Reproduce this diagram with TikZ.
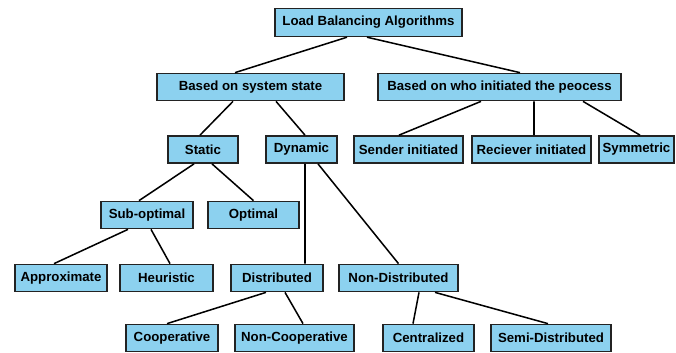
\documentclass[tikz,border=0pt]{standalone}
\usepackage{fontspec}
\setmainfont{Liberation Sans}
\usepackage{tikz}
\usetikzlibrary{arrows,shapes}

\definecolor{boxblue}{RGB}{140,209,239}
\definecolor{boxline}{RGB}{35,35,35}

\begin{document}
\begin{tikzpicture}[x=0.03cm, y=-0.03cm,
  algbox/.style={draw=boxline, line width=1.2pt, fill=boxblue, minimum height=0.82cm,
    inner sep=1pt, font=\fontsize{11.3}{13}\selectfont\bfseries},
  branch/.style={line width=1.3pt, black}]

\useasboundingbox (0,0) rectangle (676,352);

\node[algbox, minimum width=5.61cm, minimum height=0.84cm] (lba) at (368.5,22.5) {Load Balancing Algorithms};

\node[algbox, minimum width=5.61cm] (state) at (250.5,87) {Based on system state};
\node[algbox, minimum width=7.29cm] (who) at (499.5,87) {Based on who initiated the peocess};

\node[algbox, minimum width=2.1cm] (static) at (203,149.5) {Static};
\node[algbox, minimum width=2.13cm] (dynamic) at (301.5,149.5) {Dynamic};
\node[algbox, minimum width=3.27cm] (sender) at (408.5,149.5) {Sender initiated};
\node[algbox, minimum width=3.57cm] (receiver) at (531.5,149.5) {Reciever initiated};
\node[algbox, minimum width=2.25cm] (symmetric) at (636.5,149.5) {Symmetric};

\node[algbox, minimum width=2.76cm] (subopt) at (147,215) {Sub-optimal};
\node[algbox, minimum width=2.73cm] (optimal) at (253.5,215) {Optimal};

\node[algbox, minimum width=2.76cm] (approx) at (61,278) {Approximate};
\node[algbox, minimum width=2.79cm] (heuristic) at (166.5,278) {Heuristic};
\node[algbox, minimum width=2.76cm] (distr) at (277,278) {Distributed};
\node[algbox, minimum width=3.57cm] (nondistr) at (398.5,278) {Non-Distributed};

\node[algbox, minimum width=2.76cm] (coop) at (172,338) {Cooperative};
\node[algbox, minimum width=3.57cm] (noncoop) at (294.5,338) {Non-Cooperative};
\node[algbox, minimum width=2.73cm] (central) at (428.5,338) {Centralized};
\node[algbox, minimum width=3.6cm] (semi) at (551,338) {Semi-Distributed};

% tree lines
\draw[branch] ([xshift=-0.645cm]lba.south) -- ([xshift=-0.465cm]state.north);
\draw[branch] ([xshift=-0.045cm]lba.south) -- ([xshift=0.615cm]who.north);

\draw[branch] ([xshift=-0.525cm]state.south) -- ([xshift=-0.09cm]static.north);
\draw[branch] ([xshift=0.765cm]state.south) -- ([xshift=0.105cm]dynamic.north);

\draw[branch] ([xshift=-0.555cm]who.south) -- ([xshift=-0.285cm]sender.north);
\draw[branch] ([xshift=1.035cm]who.south) -- ([xshift=0.075cm]receiver.north);
\draw[branch] ([xshift=2.505cm]who.south) -- ([xshift=0.105cm]symmetric.north);

\draw[branch] ([xshift=-0.27cm]static.south) -- ([xshift=-0.24cm]subopt.north);
\draw[branch] ([xshift=0.27cm]static.south) -- (optimal.north);

\draw[branch] ([xshift=0.105cm]dynamic.south) -- ([xshift=0.84cm]distr.north);
\draw[branch] ([xshift=0.495cm]dynamic.south) -- (nondistr.north);

\draw[branch] ([xshift=-0.57cm]subopt.south) -- ([xshift=-0.21cm]approx.north);
\draw[branch] ([xshift=0.12cm]subopt.south) -- ([xshift=0.105cm]heuristic.north);

\draw[branch] ([xshift=-0.33cm]distr.south) -- ([xshift=-0.15cm]coop.north);
\draw[branch] ([xshift=0.24cm]distr.south) -- ([xshift=0.255cm]noncoop.north);

\draw[branch] ([xshift=0.615cm]nondistr.south) -- ([xshift=-0.465cm]central.north);
\draw[branch] ([xshift=1.095cm]nondistr.south) -- ([xshift=-0.09cm]semi.north);

\end{tikzpicture}
\end{document}
